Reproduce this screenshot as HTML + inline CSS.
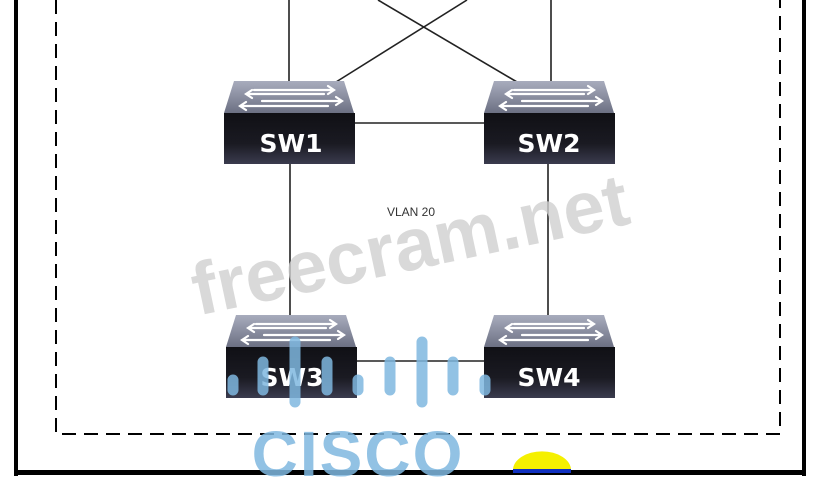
<!DOCTYPE html>
<html><head><style>
html,body{margin:0;padding:0;background:#fff;}
svg{display:block;}
</style></head><body>
<svg width="819" height="478" viewBox="0 0 819 478" xmlns="http://www.w3.org/2000/svg">
<defs>
<linearGradient id="top" x1="0" y1="0" x2="0" y2="1"><stop offset="0" stop-color="#a8acbd"/><stop offset="1" stop-color="#6c7083"/></linearGradient>
<linearGradient id="face" x1="0" y1="0" x2="0" y2="1"><stop offset="0" stop-color="#101015"/><stop offset="0.6" stop-color="#1a1a22"/><stop offset="1" stop-color="#3a3b4e"/></linearGradient>
<g id="sw">
<polygon points="10,0 120,0 130,32 0,32" fill="url(#top)"/>
<rect x="0" y="32" width="131" height="51" fill="url(#face)"/>
<g stroke="#fff" stroke-width="2.2" fill="none" stroke-linecap="round">
<path d="M30,9 H110 M104,5 L110,9 L104,13"/>
<path d="M100,13 H22 M28,9 L22,13 L28,17"/>
<path d="M38,20 H118 M112,16 L118,20 L112,24"/>
<path d="M104,25 H16 M22,21 L16,25 L22,29"/>
</g>
</g>
</defs>
<rect x="14" y="-5" width="4" height="481" fill="#000"/>
<rect x="802" y="-5" width="4" height="481" fill="#000"/>
<rect x="14" y="470" width="792" height="5" fill="#000"/>
<path d="M56,0 V434 H780 V0" fill="none" stroke="#000" stroke-width="2" stroke-dasharray="14,8"/>
<g stroke="#222" stroke-width="1.6">
<line x1="289" y1="0" x2="289" y2="82"/>
<line x1="551" y1="0" x2="551" y2="82"/>
<line x1="336" y1="82" x2="467" y2="0"/>
<line x1="517" y1="82" x2="378" y2="0"/>
<line x1="355" y1="123" x2="484" y2="123"/>
<line x1="290" y1="163" x2="290" y2="316"/>
<line x1="548" y1="163" x2="548" y2="316"/>
<line x1="355" y1="361" x2="484" y2="361"/>
</g>
<use href="#sw" x="224" y="81"/>
<use href="#sw" x="484" y="81"/>
<use href="#sw" x="226" y="315"/>
<use href="#sw" x="484" y="315"/>
<g font-family="DejaVu Sans, sans-serif" font-weight="bold" font-size="25" fill="#fff" text-anchor="middle">
<text x="291" y="152">SW1</text>
<text x="549" y="152">SW2</text>
<text x="292" y="386">SW3</text>
<text x="549" y="386">SW4</text>
</g>
<text x="411" y="216" font-family="Liberation Sans, sans-serif" font-size="12" fill="#333" text-anchor="middle">VLAN 20</text>
<text x="410" y="270" font-family="Liberation Sans, sans-serif" font-weight="bold" font-size="74" fill="#cfcfcf" fill-opacity="0.8" text-anchor="middle" transform="rotate(-12 410 245)">freecram.net</text>
<g stroke="#7fb7df" stroke-opacity="0.85" stroke-width="11" stroke-linecap="round">
<line x1="233" y1="380" x2="233" y2="390"/>
<line x1="263" y1="362" x2="263" y2="390"/>
<line x1="295" y1="342" x2="295" y2="402"/>
<line x1="327" y1="362" x2="327" y2="390"/>
<line x1="358" y1="380" x2="358" y2="390"/>
<line x1="390" y1="362" x2="390" y2="390"/>
<line x1="422" y1="342" x2="422" y2="402"/>
<line x1="453" y1="362" x2="453" y2="390"/>
<line x1="485" y1="380" x2="485" y2="390"/>
</g>
<text x="358" y="476" font-family="Liberation Sans, sans-serif" font-weight="bold" font-size="64" fill="#7fb7df" fill-opacity="0.85" text-anchor="middle" letter-spacing="2">CISCO</text>
<path d="M513,470 A28,18 0 0 1 571,470 Z" fill="#f5f000"/>
<rect x="513" y="469" width="58" height="4" fill="#1030c0"/>
</svg>
</body></html>
